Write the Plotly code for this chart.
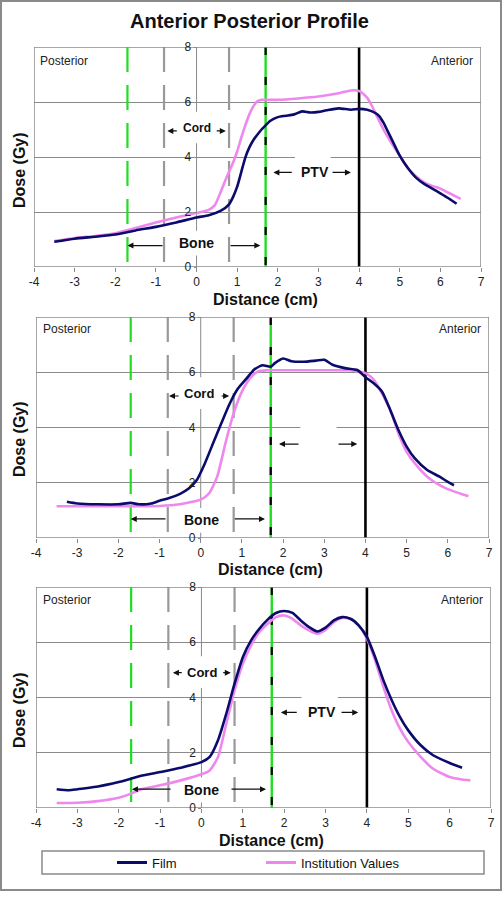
import plotly.graph_objects as go

# ---------------- data ----------------
top_film_x = [-3.5,-3.0,-2.5,-2.0,-1.5,-1.0,-0.5,0.0,0.3,0.6,0.8,0.9,1.0,1.1,1.2,1.3,1.4,1.5,1.6,1.7,1.8,2.0,2.2,2.4,2.6,2.8,3.0,3.2,3.5,3.8,4.0,4.2,4.4,4.5,4.6,4.7,4.8,5.0,5.2,5.4,5.6,5.8,6.0,6.2,6.4]
top_film_y = [0.92,1.03,1.10,1.18,1.33,1.46,1.62,1.80,1.88,2.05,2.28,2.55,2.92,3.45,3.98,4.35,4.62,4.82,5.00,5.15,5.30,5.45,5.50,5.55,5.66,5.62,5.64,5.70,5.77,5.72,5.75,5.72,5.60,5.48,5.25,4.95,4.65,4.05,3.60,3.25,3.02,2.85,2.68,2.50,2.30]
top_inst_x = [-3.5,-3.0,-2.5,-2.0,-1.5,-1.0,-0.5,0.0,0.3,0.45,0.6,0.75,0.9,1.0,1.1,1.2,1.3,1.4,1.5,1.6,1.8,2.0,2.5,3.0,3.5,3.8,4.0,4.1,4.2,4.3,4.4,4.6,4.8,5.0,5.2,5.4,5.6,5.8,6.0,6.2,6.5]
top_inst_y = [0.94,1.05,1.13,1.23,1.42,1.62,1.80,1.96,2.08,2.25,2.75,3.30,3.80,4.20,4.70,5.15,5.55,5.85,6.03,6.08,6.08,6.08,6.13,6.20,6.32,6.42,6.40,6.30,6.15,5.90,5.60,5.00,4.50,4.05,3.60,3.30,3.08,2.95,2.85,2.70,2.48]

mid_film_x = [-3.25,-3.0,-2.5,-2.0,-1.7,-1.5,-1.2,-1.0,-0.8,-0.5,-0.3,-0.1,0.1,0.3,0.5,0.7,0.9,1.1,1.3,1.5,1.7,1.8,2.0,2.2,2.5,2.8,3.0,3.2,3.5,3.8,4.0,4.2,4.4,4.6,4.8,5.0,5.2,5.5,5.8,6.0,6.15]
mid_film_y = [1.31,1.25,1.22,1.22,1.27,1.22,1.25,1.35,1.43,1.60,1.78,2.09,2.70,3.43,4.15,4.85,5.40,5.75,6.10,6.25,6.20,6.33,6.50,6.40,6.38,6.42,6.45,6.27,6.15,6.08,5.82,5.60,5.30,4.64,3.91,3.31,2.88,2.46,2.22,2.03,1.91]
mid_inst_x = [-3.5,-3.0,-2.0,-1.0,-0.5,-0.2,0.0,0.2,0.4,0.6,0.8,1.0,1.2,1.4,1.6,2.0,2.5,3.0,3.6,3.8,4.0,4.2,4.4,4.6,4.8,5.0,5.2,5.5,5.8,6.0,6.3,6.5]
mid_inst_y = [1.15,1.15,1.15,1.16,1.22,1.31,1.39,1.61,2.22,3.43,4.52,5.30,5.79,6.03,6.07,6.07,6.07,6.07,6.07,6.03,5.97,5.73,5.24,4.64,3.79,3.12,2.70,2.22,1.91,1.77,1.61,1.51]

bot_film_x = [-3.5,-3.2,-3.0,-2.5,-2.0,-1.7,-1.5,-1.0,-0.5,0.0,0.2,0.4,0.6,0.8,1.0,1.2,1.4,1.6,1.8,2.0,2.2,2.4,2.6,2.8,3.0,3.2,3.4,3.6,3.8,4.0,4.2,4.4,4.6,4.8,5.0,5.3,5.6,6.0,6.3]
bot_film_y = [0.68,0.64,0.68,0.78,0.94,1.06,1.15,1.30,1.46,1.66,1.85,2.45,3.41,4.50,5.46,6.07,6.49,6.82,7.06,7.13,7.06,6.79,6.55,6.39,6.53,6.79,6.91,6.85,6.61,6.19,5.46,4.62,3.90,3.29,2.81,2.27,1.91,1.63,1.46]
bot_inst_x = [-3.5,-3.0,-2.5,-2.0,-1.7,-1.5,-1.0,-0.5,0.0,0.2,0.4,0.6,0.8,1.0,1.2,1.4,1.6,1.8,2.0,2.2,2.4,2.6,2.8,3.0,3.2,3.4,3.6,3.8,4.0,4.2,4.4,4.6,4.8,5.0,5.3,5.6,6.0,6.3,6.5]
bot_inst_y = [0.18,0.19,0.25,0.37,0.52,0.66,0.82,1.00,1.22,1.36,1.85,3.05,4.26,5.22,5.89,6.37,6.67,6.91,6.97,6.85,6.61,6.43,6.31,6.45,6.73,6.88,6.85,6.61,6.13,5.34,4.38,3.53,2.87,2.39,1.85,1.42,1.12,1.03,1.00]

x_tick_vals = [-4,-3,-2,-1,0,1,2,3,4,5,6,7]
x_tick_text = ["-4","-3","-2","-1","0","1","2","3","4","5","6","7"]
y_tick_vals = [0,2,4,6,8]

bone_edges = [-1.7, 1.7]
cord_edges = [-0.8, 0.8]
ptv_edge = 4.0
X_RANGE = [-4, 7]
Y_RANGE = [0, 8]

W, H = 504, 900
FILM = "#0b0b6b"
INST = "#ee88ee"
FONT = "Liberation Sans, Arial, sans-serif"
GRID = "#8a8a8a"

panels = [
    dict(box=(34, 481, 47, 267), film=(top_film_x, top_film_y), inst=(top_inst_x, top_inst_y),
         cord=(0.01, 5.05, 4.95, -0.45, -0.72, 0.46, 0.72, 12),
         bone=(0.01, 0.87, 0.78, -0.8, -1.7, 0.8, 1.57),
         ptv=(2.92, 3.45, 3.44, 2.38, 1.89, 3.31, 3.8, True),
         post=(-3.9, 7.49), ant=(6.86, 7.49), xt=299, yt=170),
    dict(box=(36, 489, 317, 538), film=(mid_film_x, mid_film_y), inst=(mid_inst_x, mid_inst_y),
         cord=(-0.04, 5.22, 5.14, -0.5, -0.77, 0.47, 0.69, 13),
         bone=(0.03, 0.64, 0.69, -0.82, -1.7, 0.79, 1.56),
         ptv=(2.9, 3.45, 3.4, 2.41, 1.9, 3.31, 3.8, False),
         post=(-3.88, 7.57), ant=(6.85, 7.57), xt=569, yt=439),
    dict(box=(36, 491, 587, 808), film=(bot_film_x, bot_film_y), inst=(bot_inst_x, bot_inst_y),
         cord=(0.01, 4.89, 4.9, -0.44, -0.69, 0.49, 0.71, 13),
         bone=(0.01, 0.65, 0.68, -0.71, -1.68, 0.69, 1.56),
         ptv=(2.91, 3.48, 3.46, 2.34, 1.92, 3.35, 3.79, True),
         post=(-3.88, 7.53), ant=(6.86, 7.53), xt=840, yt=710),
]

fig = go.Figure()
shapes = []
annotations = []
layout = {}


def text_ann(xref, yref, x, y, text, size, xanchor="center", color="#111", angle=0):
    annotations.append(dict(xref=xref, yref=yref, x=x, y=y, text=text, showarrow=False,
                            xanchor=xanchor, yanchor="middle", textangle=angle,
                            font=dict(size=size, color=color, family=FONT)))


for i, p in enumerate(panels):
    n = "" if i == 0 else str(i + 1)
    xa, ya = "x" + n, "y" + n
    l, r, t, b = p["box"]
    xd = [l / W, r / W]
    yd = [(H - b) / H, (H - t) / H]
    layout["xaxis" + n] = dict(domain=xd, range=X_RANGE, anchor=ya, tickvals=x_tick_vals,
                               ticktext=x_tick_text, ticks="outside", ticklen=4, tickcolor=GRID,
                               showgrid=False, zeroline=False, showline=False, automargin=False,
                               tickfont=dict(size=12, color="#222", family=FONT))
    layout["yaxis" + n] = dict(domain=yd, range=Y_RANGE, anchor="free",
                               position=xd[0] + 4 / 11 * (xd[1] - xd[0]),
                               tickvals=y_tick_vals, ticks="outside", ticklen=3, tickcolor=GRID,
                               showgrid=True, gridcolor=GRID, gridwidth=1, zeroline=False,
                               showline=False, automargin=False,
                               tickfont=dict(size=12, color="#222", family=FONT))

    fig.add_trace(go.Scatter(x=p["inst"][0], y=p["inst"][1], mode="lines", name="Institution Values",
                             line=dict(color=INST, width=2.6, shape="spline", smoothing=0.6),
                             xaxis=xa, yaxis=ya, showlegend=False))
    fig.add_trace(go.Scatter(x=p["film"][0], y=p["film"][1], mode="lines", name="Film",
                             line=dict(color=FILM, width=2.6, shape="spline", smoothing=0.6),
                             xaxis=xa, yaxis=ya, showlegend=False))

    def ln(x0, x1, y0, y1, **line):
        shapes.append(dict(type="line", xref=xa, yref=ya, x0=x0, x1=x1, y0=y0, y1=y1,
                           line=line, layer="between"))

    def box(x0, x1, y0, y1):
        shapes.append(dict(type="rect", xref=xa, yref=ya, x0=x0, x1=x1, y0=y0, y1=y1,
                           fillcolor="white", line=dict(width=0), layer="between"))

    # y axis line at x=0
    ln(0, 0, Y_RANGE[0], Y_RANGE[1], color=GRID, width=1)
    # white label boxes that break the grid
    box(-0.55, 0.55, p["cord"][1] - 0.55, p["cord"][1] + 0.6)
    box(-0.55, 0.55, p["bone"][1] - 0.45, p["bone"][1] + 0.45)
    box(2.42, 3.3, p["ptv"][1] - 0.5, 4.15)
    # vertical marker lines
    ln(bone_edges[0], bone_edges[0], Y_RANGE[1], Y_RANGE[0], color="#22dd22", width=2.2, dash="25px,13px")
    for cx in cord_edges:
        ln(cx, cx, Y_RANGE[1], Y_RANGE[0], color="#999999", width=2.2, dash="25px,13px")
    ln(bone_edges[1], bone_edges[1], Y_RANGE[1], Y_RANGE[0], color="#22dd22", width=2.4)
    ln(bone_edges[1], bone_edges[1], Y_RANGE[1], Y_RANGE[0], color="#000000", width=2.2, dash="8px,22px")
    ln(ptv_edge, ptv_edge, Y_RANGE[0], Y_RANGE[1], color="#000000", width=2.6)
    # plot border
    shapes.append(dict(type="rect", xref=xa, yref=ya, x0=X_RANGE[0], x1=X_RANGE[1],
                       y0=Y_RANGE[0], y1=Y_RANGE[1], line=dict(color=GRID, width=1.5),
                       layer="between"))

    # text annotations
    text_ann(xa, ya, p["post"][0], p["post"][1], "Posterior", 12, "left", "#222")
    text_ann(xa, ya, p["ant"][0], p["ant"][1], "Anterior", 12, "right", "#222")
    cx_, cy_, cay, lt, lh, rt, rh, cfs = p["cord"]
    text_ann(xa, ya, cx_, cy_, "<b>Cord</b>", cfs)
    arrows = [(lt, lh, cay), (rt, rh, cay)]
    bx, by, bay, blt, blh, brt, brh = p["bone"]
    text_ann(xa, ya, bx, by, "<b>Bone</b>", 14)
    arrows += [(blt, blh, bay), (brt, brh, bay)]
    px_, py_, pay, plt_, plh, prt, prh, show = p["ptv"]
    if show:
        text_ann(xa, ya, px_, py_, "<b>PTV</b>", 14)
    arrows += [(plt_, plh, pay), (prt, prh, pay)]
    for tail, head, yy in arrows:
        annotations.append(dict(xref=xa, yref=ya, axref=xa, ayref=ya, x=head, y=yy, ax=tail, ay=yy,
                                text="", showarrow=True, arrowhead=2, arrowsize=1, arrowwidth=1.2,
                                arrowcolor="#111"))
    # axis titles
    text_ann("paper", "paper", (l + r) / 2 / W + 8 / W, (H - p["xt"]) / H, "<b>Distance (cm)</b>", 16)
    text_ann("paper", "paper", 19 / W, (H - p["yt"]) / H, "<b>Dose (Gy)</b>", 16, angle=-90)

# legend entries (dummy traces for the legend only)
fig.add_trace(go.Scatter(x=[None], y=[None], mode="lines", name="Film",
                         line=dict(color=FILM, width=3), xaxis="x3", yaxis="y3"))
fig.add_trace(go.Scatter(x=[None], y=[None], mode="lines", name="Institution Values",
                         line=dict(color=INST, width=3), xaxis="x3", yaxis="y3"))

# title
text_ann("paper", "paper", 249 / W, (H - 21) / H, "<b>Anterior Posterior Profile</b>", 20)
# legend box and outer frame
shapes.append(dict(type="rect", xref="paper", yref="paper", x0=42 / W, x1=484 / W,
                   y0=(H - 874) / H, y1=(H - 851) / H, line=dict(color=GRID, width=1.5)))
shapes.append(dict(type="rect", xref="paper", yref="paper", x0=1 / W, x1=501 / W,
                   y0=(H - 890) / H, y1=(H - 1) / H, line=dict(color=GRID, width=2)))

fig.update_layout(
    width=W, height=H, margin=dict(l=0, r=0, t=0, b=0, autoexpand=False),
    paper_bgcolor="white", plot_bgcolor="white",
    shapes=shapes, annotations=annotations,
    legend=dict(orientation="h", x=112 / W, xanchor="left", y=(H - 862.5) / H, yanchor="middle",
                bgcolor="rgba(0,0,0,0)", borderwidth=0, entrywidth=104, entrywidthmode="pixels",
                font=dict(size=13, color="#111", family=FONT), itemwidth=30),
    **layout,
)

fig.write_html("out.html", config={"displayModeBar": False},
               post_script="document.body.style.margin='0';document.body.style.overflow='hidden';")
